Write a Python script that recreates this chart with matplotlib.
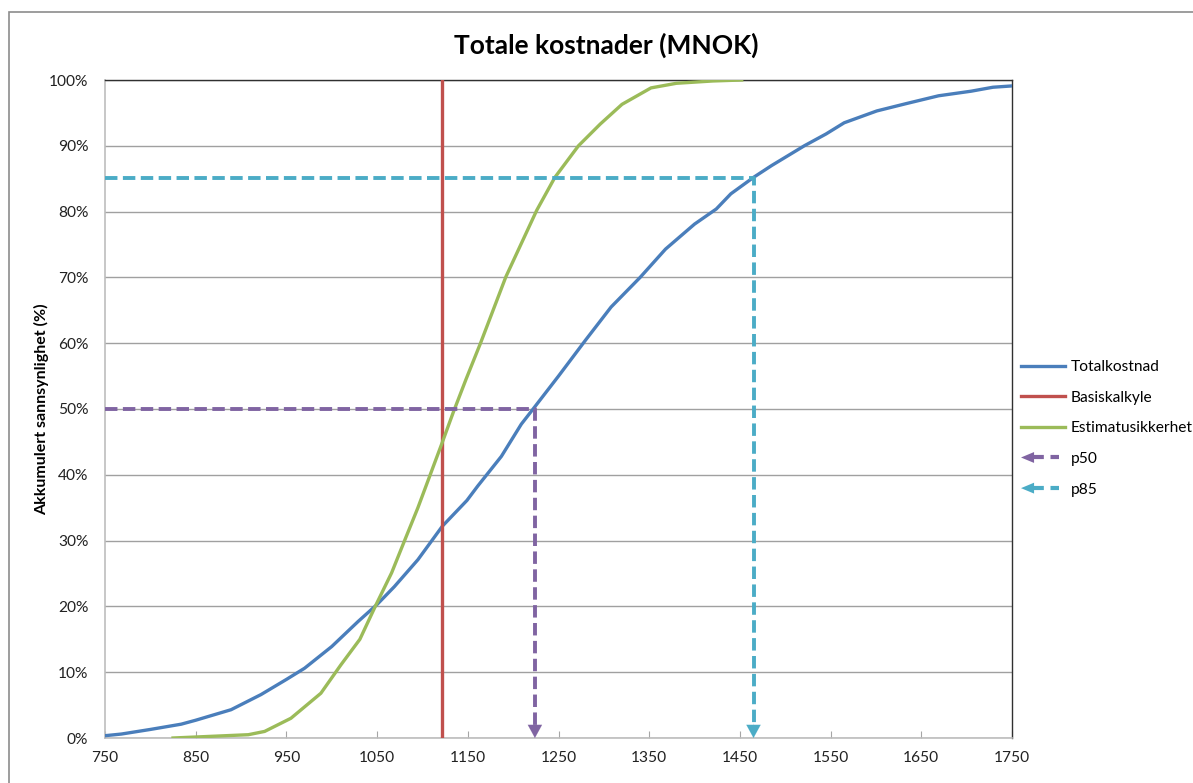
import matplotlib
matplotlib.use('Agg')
import matplotlib.pyplot as plt
from matplotlib.lines import Line2D
from matplotlib.patches import Polygon, Rectangle
from matplotlib.legend_handler import HandlerBase
from matplotlib.ticker import FixedLocator

# ---- data ----
total_x = [750, 768, 800, 834, 850, 889, 922, 950, 970, 1000, 1029, 1050, 1069, 1095,
           1122, 1149, 1161, 1187, 1209, 1222, 1250, 1280, 1308, 1340, 1368, 1400,
           1424, 1440, 1465, 1485, 1521, 1545, 1565, 1601, 1633, 1669, 1705, 1729, 1750]
total_p = [0.35, 0.6, 1.3, 2.1, 2.7, 4.3, 6.6, 8.9, 10.6, 13.9, 17.7, 20.3, 23.0, 27.1,
           32.2, 36.1, 38.3, 42.8, 47.7, 50.0, 55.0, 60.5, 65.5, 70.0, 74.3, 78.1,
           80.4, 82.7, 85.2, 87.0, 90.0, 91.8, 93.5, 95.3, 96.4, 97.6, 98.3, 98.9, 99.1]

est_x = [825, 908, 926, 955, 988, 1010, 1031, 1049, 1066, 1080, 1095, 1108, 1121, 1134,
         1148, 1164, 1192, 1226, 1246, 1272, 1296, 1320, 1352, 1380, 1420, 1452]
est_p = [0.0, 0.5, 1.0, 3.0, 6.8, 11.1, 15.0, 20.3, 25.1, 29.9, 35.0, 39.8, 44.6, 49.5,
         54.5, 60.0, 70.1, 80.2, 85.2, 90.0, 93.3, 96.3, 98.8, 99.5, 99.85, 100.0]

basis_x = 1122
p50_x, p50_p = 1224, 50.0
p85_x, p85_p = 1465, 85.1

x_ticks = [750, 850, 950, 1050, 1150, 1250, 1350, 1450, 1550, 1650, 1750]
y_ticks = [0, 10, 20, 30, 40, 50, 60, 70, 80, 90, 100]
y_tick_labels = [f"{v}%" for v in y_ticks]

title = "Totale kostnader (MNOK)"
ylabel = "Akkumulert sannsynlighet (%)"
labels = ["Totalkostnad", "Basiskalkyle", "Estimatusikkerhet", "p50", "p85"]

c_blue = "#4A7EBB"
c_red = "#C0504D"
c_green = "#9BBB59"
c_purple = "#8064A2"
c_cyan = "#4BACC6"

FONT = ["Lato", "DejaVu Sans"]
plt.rcParams['font.family'] = FONT

W, H = 1193, 783
fig = plt.figure(figsize=(W / 100, H / 100), dpi=100)

# outer chart frame
fig.patches.append(Rectangle((9 / W, -0.1), 1.2, 1 - 12 / H + 0.1, transform=fig.transFigure,
                             fill=False, ec="#8c8c8c", lw=1.2))

ax = fig.add_axes([105 / W, 1 - 738 / H, (1012 - 105) / W, (738 - 80) / H])
ax.set_xlim(750, 1750)
ax.set_ylim(0, 100)

ax.xaxis.set_major_locator(FixedLocator(x_ticks))
ax.set_yticks(y_ticks)
ax.set_yticklabels(y_tick_labels)
ax.tick_params(axis='x', direction='in', length=5, color="#a6a6a6", labelsize=11.2,
               pad=9, labelcolor="#222222")
ax.tick_params(axis='y', length=0, labelsize=11.2, pad=12, labelcolor="#222222")

ax.grid(axis='y', color="#a0a0a0", lw=1.0)
ax.set_axisbelow(True)
for s in ['left', 'bottom']:
    ax.spines[s].set_color("#bdbdbd")
    ax.spines[s].set_linewidth(1.2)
for s in ['top', 'right']:
    ax.spines[s].set_color("#303030")
    ax.spines[s].set_linewidth(1.0)

lw = 2.4
dash = (0, (3.2, 1.4))
ax.plot(total_x, total_p, color=c_blue, lw=lw, zorder=3)
ax.plot([basis_x, basis_x], [0, 100], color=c_red, lw=lw, zorder=3)
ax.plot(est_x, est_p, color=c_green, lw=lw, zorder=3)

for px, pp, c in [(p50_x, p50_p, c_purple), (p85_x, p85_p, c_cyan)]:
    ax.plot([750, px, px], [pp, pp, 2.0], color=c, lw=2.8, linestyle=dash, zorder=4,
            solid_joinstyle='miter', dash_capstyle='butt')
    ax.annotate('', xy=(px, 0), xytext=(px, 2.2),
                arrowprops=dict(arrowstyle='-|>,head_length=0.55,head_width=0.3',
                                color=c, lw=0.1, shrinkA=0, shrinkB=0,
                                mutation_scale=17), zorder=5)

fig.text(606 / W, 1 - 45 / H, title, ha='center', va='center', fontsize=19,
         fontweight='bold', color="#000000")
fig.text(42 / W, 1 - 409 / H, ylabel, ha='center', va='center', rotation=90,
         fontsize=11.5, fontweight='bold', color="#000000")


class ArrowDash:
    def __init__(self, color):
        self.color = color


class HandlerArrowDash(HandlerBase):
    def create_artists(self, legend, orig_handle, xdescent, ydescent, width, height,
                       fontsize, trans):
        y = height / 2 - ydescent
        x0 = -xdescent
        hl = 0.3 * width
        hw = 0.5 * height
        tri = Polygon([[x0, y], [x0 + hl, y + hw], [x0 + hl, y - hw]], closed=True,
                      fc=orig_handle.color, ec='none', transform=trans)
        ln = Line2D([x0 + hl * 0.9, x0 + width * 0.88], [y, y], color=orig_handle.color,
                    lw=3.0, linestyle=(0, (2.6, 1.6)), transform=trans)
        return [ln, tri]


handles = [Line2D([], [], color=c_blue, lw=lw),
           Line2D([], [], color=c_red, lw=lw),
           Line2D([], [], color=c_green, lw=lw),
           ArrowDash(c_purple), ArrowDash(c_cyan)]
fig.legend(handles, labels, handler_map={ArrowDash: HandlerArrowDash()},
           loc='upper left', bbox_to_anchor=(1021 / W, 1 - 360 / H), frameon=False,
           fontsize=11.2, handlelength=2.8, handletextpad=0.4, labelspacing=1.07,
           borderpad=0, borderaxespad=0)

fig.savefig("out.png", dpi=100)
